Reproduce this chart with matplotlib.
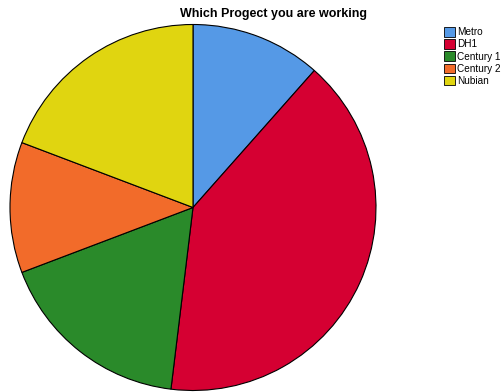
import matplotlib.pyplot as plt
from matplotlib.patches import Patch

projects = ['Metro', 'DH1', 'Century 1', 'Century 2', 'Nubian']
counts = [6, 21, 9, 6, 10]
colors = ['#5599E6', '#D50032', '#2A8A2A', '#F26B2A', '#E0D510']

plt.rcParams['font.family'] = ['Liberation Sans', 'DejaVu Sans']

fig = plt.figure(figsize=(5.01, 3.92), dpi=100)
ax = fig.add_axes([10 / 501, 1.5 / 392, 366 / 501, 366 / 392])
ax.pie(counts, colors=colors, startangle=90, counterclock=False,
       wedgeprops={'edgecolor': 'black', 'linewidth': 0.8})
ax.set_xlim(-1, 1)
ax.set_ylim(-1, 1)
ax.set_aspect('equal')

fig.text(274 / 501, 1 - 14 / 392, 'Which Progect you are working',
         ha='center', va='center', fontsize=9, fontweight='bold')

handles = [Patch(facecolor=c, edgecolor='black', linewidth=0.6) for c in colors]
fig.legend(handles, projects, loc='upper left', bbox_to_anchor=(444 / 501, 1 - 27 / 392),
           frameon=False, fontsize=7.2, handlelength=1.05, handleheight=1.1,
           handletextpad=0.25, labelspacing=0.2, borderaxespad=0, borderpad=0)

fig.savefig('out.png', dpi=100, facecolor='white')
